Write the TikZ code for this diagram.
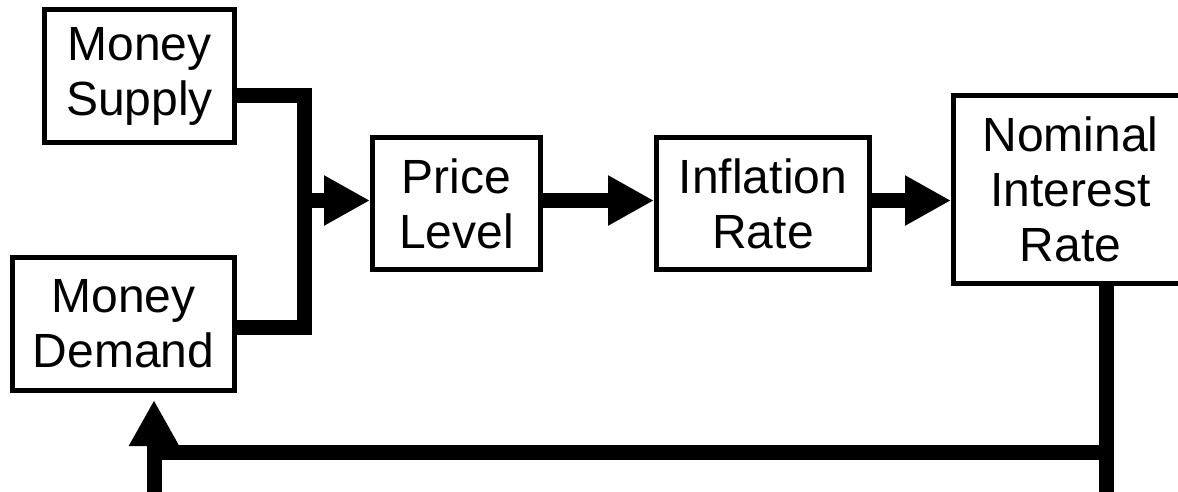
\documentclass[tikz,border=0pt]{standalone}
\usepackage{fontspec}
\setmainfont{Liberation Sans}
\usetikzlibrary{arrows.meta}
\begin{document}
\begin{tikzpicture}[x=1pt,y=-1pt,
  box/.style={draw, line width=5pt, inner sep=0pt, align=center,
    font=\fontsize{48}{55}\selectfont},
  conn/.style={line width=15pt, line join=miter},
  arr/.style={line width=15pt, -{Triangle[length=46pt,width=47pt]}}]
\useasboundingbox (0,0) rectangle (1178,491);
\fill[white] (0,0) rectangle (1178,491);

\node[box, minimum width=190pt, minimum height=133pt] (ms) at (139.5,76) {Money\\Supply};
\node[box, minimum width=222pt, minimum height=133pt] (md) at (123.5,324) {Money\\Demand};
\node[box, minimum width=168pt, minimum height=132pt] (price) at (456.5,203.5) {Price\\Level};
\node[box, minimum width=213pt, minimum height=132pt] (infl) at (763,203.5) {Inflation\\Rate};
\node[box, minimum width=234pt, minimum height=188pt] (nom) at (1070.5,189.5) {Nominal\\Interest\\Rate};

% bracket joining the two money boxes
\coordinate (bt) at (304.5,95.5);
\coordinate (bb) at (304.5,327);
\draw[conn] (ms.east |- bt) -- (bt) -- (bb) -- (md.east |- bb);

% forward arrows
\coordinate (ay) at (0,200.5);
\draw[arr] (bt |- ay) -- (price.west |- ay);
\draw[arr] (price.east |- ay) -- (infl.west |- ay);
\draw[arr] (infl.east |- ay) -- (nom.west |- ay);

% feedback loop
\coordinate (fr) at (1106,452);
\coordinate (fl) at (154,452);
\coordinate (fb) at (0,500);
\coordinate (ft) at (154,400);
\draw[conn] (nom.south -| fr) -- (fr |- fb);
\draw[conn] (fr) -- (fl);
\draw[arr] (fl |- fb) -- (ft);
\end{tikzpicture}
\end{document}
